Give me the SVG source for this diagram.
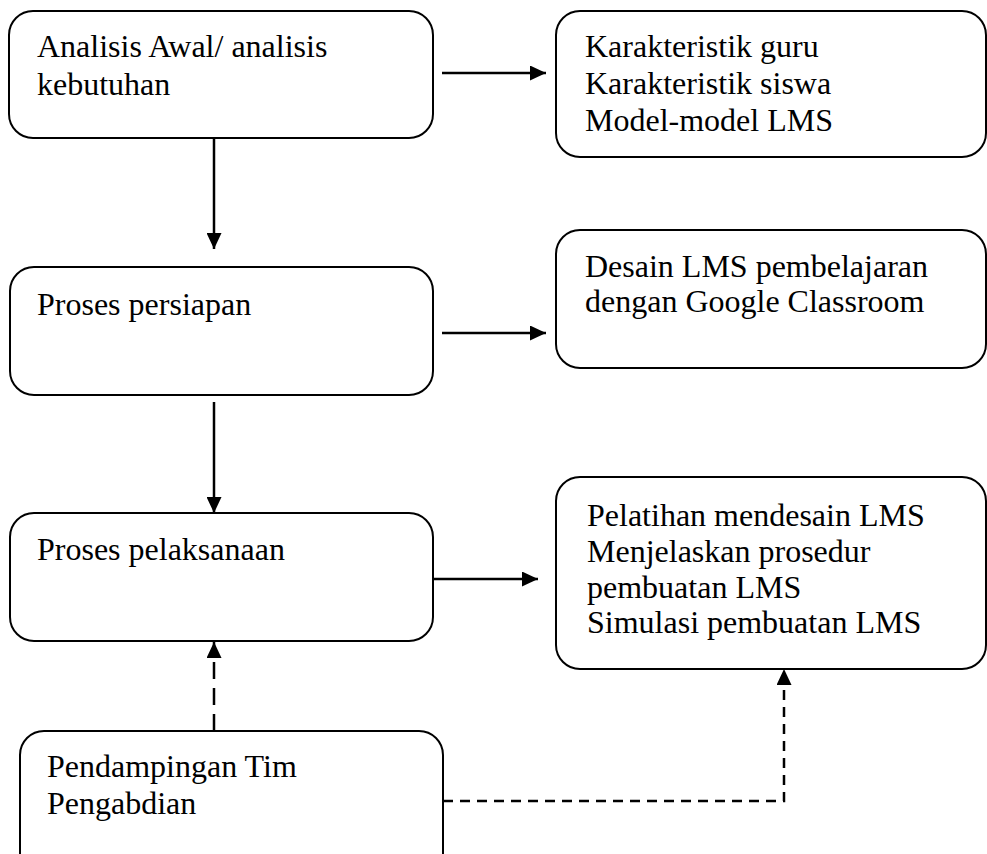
<svg xmlns="http://www.w3.org/2000/svg" width="987" height="854" viewBox="0 0 987 854">
<defs>
<style>
.box{fill:#fff;stroke:#000;stroke-width:2}
.t{font-family:"Liberation Serif","Times New Roman",serif;font-size:32px;fill:#000}
.c{fill:none;stroke:#000;stroke-width:2.5}
.dv{stroke-dasharray:17 9}
.dh{stroke-dasharray:10 7}
</style>
<marker id="ah" viewBox="0 0 16 15" refX="16" refY="7.5" markerWidth="16" markerHeight="15" markerUnits="userSpaceOnUse" orient="auto">
<path d="M0,0 L16,7.5 L0,15 Z" fill="#000"/>
</marker>
</defs>
<rect width="987" height="854" fill="#fff"/>
<g id="connectors">
<line class="c" x1="442" y1="73" x2="546" y2="73" marker-end="url(#ah)"/>
<line class="c" x1="214" y1="138" x2="214" y2="249" marker-end="url(#ah)"/>
<line class="c" x1="442" y1="333" x2="546" y2="333" marker-end="url(#ah)"/>
<line class="c" x1="214" y1="402" x2="214" y2="513" marker-end="url(#ah)"/>
<line class="c" x1="433" y1="579" x2="538" y2="579" marker-end="url(#ah)"/>
<line class="c dv" x1="214" y1="731" x2="214" y2="642" marker-end="url(#ah)"/>
<polyline class="c dh" points="443,801 784,801 784,669" marker-end="url(#ah)"/>
</g>
<g id="n1"><rect class="box" x="9" y="11" width="424" height="127" rx="24"/>
<text class="t" x="37" y="57">Analisis Awal/ analisis</text><text class="t" x="37" y="95">kebutuhan</text></g>
<g id="n2"><rect class="box" x="556" y="11" width="430" height="146" rx="24"/>
<text class="t" x="585" y="57">Karakteristik guru</text><text class="t" x="585" y="94">Karakteristik siswa</text><text class="t" x="585" y="131">Model-model LMS</text></g>
<g id="n3"><rect class="box" x="10" y="267" width="423" height="128" rx="24"/>
<text class="t" x="37" y="315">Proses persiapan</text></g>
<g id="n4"><rect class="box" x="556" y="230" width="430" height="138" rx="24"/>
<text class="t" x="585" y="277">Desain LMS pembelajaran</text><text class="t" x="585" y="312">dengan Google Classroom</text></g>
<g id="n5"><rect class="box" x="10" y="513" width="423" height="128" rx="24"/>
<text class="t" x="37" y="560">Proses pelaksanaan</text></g>
<g id="n6"><rect class="box" x="556" y="477" width="430" height="192" rx="24"/>
<text class="t" x="587" y="526">Pelatihan mendesain LMS</text><text class="t" x="587" y="562">Menjelaskan prosedur</text><text class="t" x="587" y="598">pembuatan LMS</text><text class="t" x="587" y="633">Simulasi pembuatan LMS</text></g>
<g id="n7"><rect class="box" x="20" y="731" width="423" height="150" rx="24"/>
<text class="t" x="47" y="777">Pendampingan Tim</text><text class="t" x="47" y="814">Pengabdian</text></g>
</svg>
